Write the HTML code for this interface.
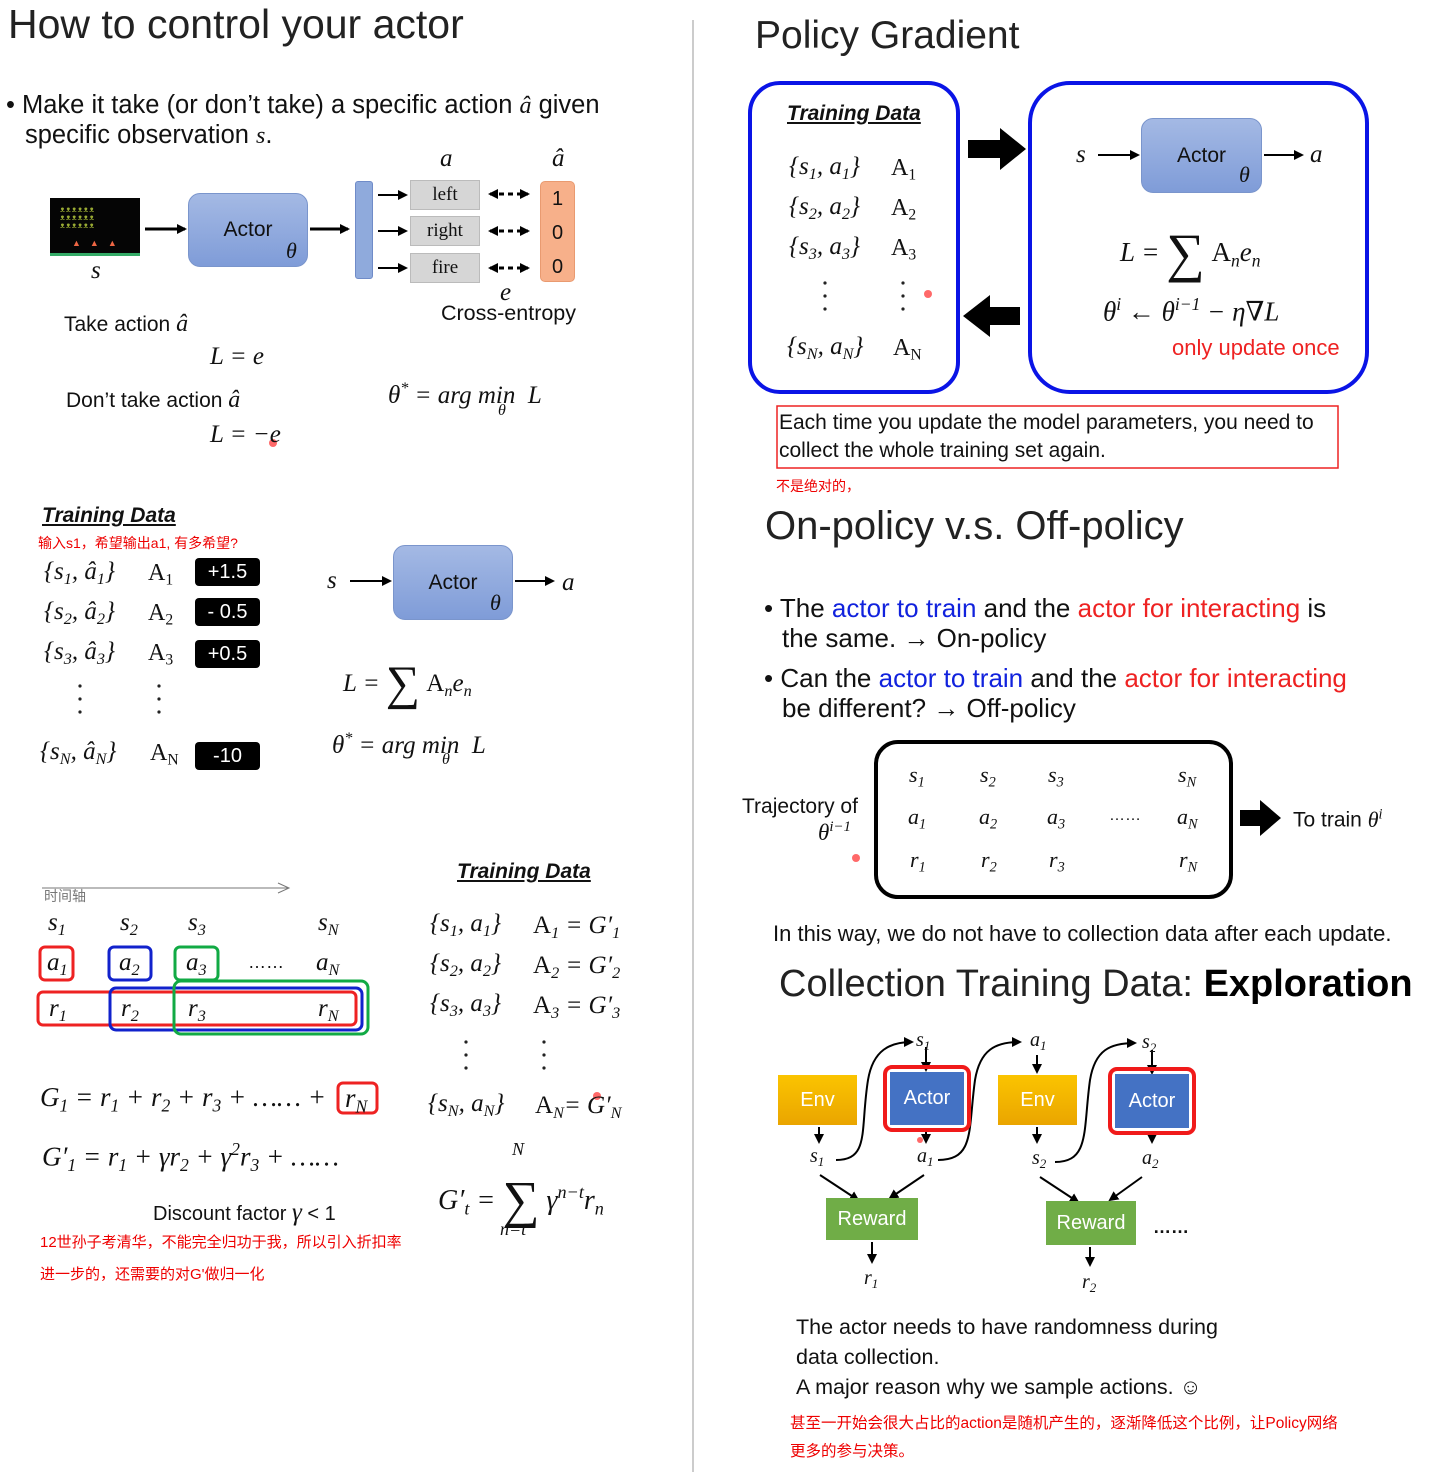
<!DOCTYPE html>
<html><head><meta charset="utf-8">
<style>
body{margin:0;width:1429px;height:1472px;position:relative;background:#fff;overflow:hidden;font-family:"Liberation Sans","Noto Sans CJK SC",sans-serif;color:#111}
.t{position:absolute;white-space:nowrap;line-height:1}
.m{font-family:"Liberation Serif","DejaVu Serif",serif;font-style:italic;font-size:25px}
.r{font-family:"Liberation Serif","DejaVu Serif",serif;font-size:24px}
.cn{color:#e00;font-size:14px;font-family:"Liberation Sans","Noto Sans CJK SC",sans-serif}
.h{font-size:39px;color:#222}
.b{position:absolute;box-sizing:border-box}
.actor{background:linear-gradient(#a4b9e4,#7f9cd8);border:1px solid #7a95cc;border-radius:12px;font-size:21px;display:flex;align-items:center;justify-content:center}
.blk{background:#000;color:#fff;font-size:20px;border-radius:4px;display:flex;align-items:center;justify-content:center}
.td{font-weight:bold;font-style:italic;text-decoration:underline;font-size:21px}
.bl{font-size:25.5px}
sub{font-size:65%;vertical-align:-0.3em}
sup{font-size:65%;vertical-align:0.6em}
</style></head><body>
<svg width="1429" height="1472" style="position:absolute;left:0;top:0">
<defs>
<marker id="ar" markerWidth="10" markerHeight="10" refX="8" refY="5" orient="auto" markerUnits="userSpaceOnUse"><path d="M0,0 L10,5 L0,10z" fill="#000"/></marker>
<marker id="al" markerWidth="10" markerHeight="10" refX="2" refY="5" orient="auto" markerUnits="userSpaceOnUse"><path d="M10,0 L0,5 L10,10z" fill="#000"/></marker>
</defs>
<line x1="693" y1="20" x2="693" y2="1472" stroke="#999" stroke-width="1"/>
<g stroke="#000" stroke-width="3" marker-end="url(#ar)">
<line x1="145" y1="229" x2="185" y2="229"/>
<line x1="310" y1="229" x2="348" y2="229"/>
</g>
<g stroke="#000" stroke-width="2" marker-end="url(#ar)">
<line x1="378" y1="195" x2="406" y2="195"/>
<line x1="378" y1="231" x2="406" y2="231"/>
<line x1="378" y1="268" x2="406" y2="268"/>
<line x1="350" y1="581" x2="390" y2="581"/>
<line x1="515" y1="581" x2="553" y2="581"/>
<line x1="1098" y1="155" x2="1138" y2="155"/>
<line x1="1264" y1="155" x2="1302" y2="155"/>
</g>
<g stroke="#000" stroke-width="3" stroke-dasharray="5,4" marker-start="url(#al)" marker-end="url(#ar)">
<line x1="490" y1="194" x2="528" y2="194"/>
<line x1="490" y1="231" x2="528" y2="231"/>
<line x1="490" y1="268" x2="528" y2="268"/>
</g>
<g fill="#222">
<circle cx="80" cy="686" r="1.6"/><circle cx="80" cy="699" r="1.6"/><circle cx="80" cy="712" r="1.6"/>
<circle cx="159" cy="686" r="1.6"/><circle cx="159" cy="699" r="1.6"/><circle cx="159" cy="712" r="1.6"/>
<circle cx="466" cy="1042" r="1.6"/><circle cx="466" cy="1055" r="1.6"/><circle cx="466" cy="1068" r="1.6"/>
<circle cx="544" cy="1042" r="1.6"/><circle cx="544" cy="1055" r="1.6"/><circle cx="544" cy="1068" r="1.6"/>
<circle cx="825" cy="283" r="1.6"/><circle cx="825" cy="296" r="1.6"/><circle cx="825" cy="309" r="1.6"/>
<circle cx="903" cy="283" r="1.6"/><circle cx="903" cy="296" r="1.6"/><circle cx="903" cy="309" r="1.6"/>
</g>
<line x1="42" y1="888" x2="288" y2="888" stroke="#777" stroke-width="1"/>
<path d="M278,883 L289,888 L278,893" fill="none" stroke="#777"/>
<g fill="none" stroke-width="3">
<rect x="40" y="947" width="33" height="33" rx="5" stroke="#e22"/>
<rect x="109" y="947" width="42" height="33" rx="5" stroke="#12c"/>
<rect x="175" y="947" width="43" height="33" rx="5" stroke="#1a4"/>
<rect x="38" y="992" width="318" height="33" rx="5" stroke="#e22"/>
<rect x="110" y="988" width="252" height="42" rx="6" stroke="#12c"/>
<rect x="174" y="981" width="194" height="53" rx="7" stroke="#1a4"/>
<rect x="338" y="1083" width="39" height="30" rx="5" stroke="#e22"/>
</g>
<rect x="750" y="83" width="208" height="309" rx="30" fill="none" stroke="#0a14e6" stroke-width="4"/>
<rect x="1030" y="83" width="337" height="309" rx="40" fill="none" stroke="#0a14e6" stroke-width="4"/>
<path d="M968,140 L1000,140 L1000,128 L1026,149 L1000,170 L1000,158 L968,158z" fill="#000"/>
<path d="M1020,307 L990,307 L990,295 L963,316 L990,337 L990,325 L1020,325z" fill="#000"/>
<rect x="777" y="406" width="561" height="62" fill="none" stroke="#e22" stroke-width="1.5"/>
<rect x="876" y="742" width="355" height="155" rx="22" fill="none" stroke="#000" stroke-width="4"/>
<path d="M1240,810 L1260,810 L1260,800 L1281,818 L1260,836 L1260,826 L1240,826z" fill="#000"/>
<circle cx="273" cy="443" r="4" fill="#f44" opacity=".8"/>
<circle cx="928" cy="294" r="4" fill="#f44" opacity=".8"/>
<circle cx="856" cy="858" r="4" fill="#f44" opacity=".8"/>
<circle cx="597" cy="1096" r="4" fill="#f44" opacity=".8"/>
<circle cx="920" cy="1140" r="3" fill="#f44" opacity=".8"/>
<g stroke="#000" stroke-width="2" fill="none" marker-end="url(#ar)">
<line x1="819" y1="1127" x2="819" y2="1142"/>
<path d="M836,1160 C870,1160 860,1130 868,1080 C873,1050 890,1042 912,1042"/>
<line x1="926" y1="1047" x2="926" y2="1070"/>
<line x1="926" y1="1128" x2="926" y2="1142"/>
<path d="M938,1160 C975,1160 968,1130 975,1080 C980,1050 995,1042 1020,1042"/>
<line x1="1037" y1="1055" x2="1037" y2="1072"/>
<line x1="1037" y1="1127" x2="1037" y2="1142"/>
<path d="M1055,1162 C1090,1162 1083,1130 1090,1080 C1095,1050 1110,1043 1135,1043"/>
<line x1="1152" y1="1050" x2="1152" y2="1073"/>
<line x1="1152" y1="1132" x2="1152" y2="1142"/>
<line x1="820" y1="1175" x2="858" y2="1200"/>
<line x1="924" y1="1175" x2="890" y2="1198"/>
<line x1="1040" y1="1177" x2="1078" y2="1202"/>
<line x1="1142" y1="1177" x2="1110" y2="1200"/>
<line x1="872" y1="1242" x2="872" y2="1262"/>
<line x1="1090" y1="1247" x2="1090" y2="1265"/>
</g>
</svg>

<!-- LEFT -->
<div class="t h" style="left:8px;top:4px;font-size:41px">How to control your actor</div>
<div class="t bl" style="left:6px;top:93px">• Make it take (or don’t take) a specific action <i class="r">â</i> given</div>
<div class="t bl" style="left:25px;top:123px">specific observation <i class="r">s</i>.</div>
<div class="t m" style="left:440px;top:146px">a</div>
<div class="t m" style="left:552px;top:146px">â</div>
<div class="b" style="left:50px;top:198px;width:90px;height:58px;background:#050505;border-bottom:3px solid #3a6"></div>
<div class="t" style="left:60px;top:206px;font-size:8px;color:#9a3;letter-spacing:1px">ᴥᴥᴥᴥᴥᴥ<br>ᴥᴥᴥᴥᴥᴥ<br>ᴥᴥᴥᴥᴥᴥ</div>
<div class="t" style="left:72px;top:239px;font-size:9px;color:#e64;letter-spacing:9px">▲▲▲</div>
<div class="t m" style="left:91px;top:258px">s</div>
<div class="b actor" style="left:188px;top:193px;width:120px;height:74px">Actor</div>
<div class="t m" style="left:286px;top:240px;font-size:22px">θ</div>
<div class="b" style="left:355px;top:181px;width:18px;height:98px;background:#8faadc;border:1px solid #6f8bc8;border-radius:3px"></div>
<div class="b r" style="left:410px;top:180px;width:70px;height:30px;background:#d6d6d6;border:1px solid #bbb;font-size:19px;text-align:center;line-height:28px">left</div>
<div class="b r" style="left:410px;top:216px;width:70px;height:30px;background:#d6d6d6;border:1px solid #bbb;font-size:19px;text-align:center;line-height:28px">right</div>
<div class="b r" style="left:410px;top:253px;width:70px;height:30px;background:#d6d6d6;border:1px solid #bbb;font-size:19px;text-align:center;line-height:28px">fire</div>
<div class="b" style="left:540px;top:181px;width:35px;height:101px;background:#f7b08a;border:1px solid #e99a70;border-radius:5px;font-size:20px;text-align:center;line-height:34px">1<br>0<br>0</div>
<div class="t m" style="left:500px;top:280px">e</div>
<div class="t" style="left:441px;top:303px;font-size:21.5px">Cross-entropy</div>
<div class="t" style="left:64px;top:312px;font-size:21px">Take action <i class="r">â</i></div>
<div class="t m" style="left:210px;top:344px">L = e</div>
<div class="t" style="left:66px;top:388px;font-size:21px">Don’t take action <i class="r">â</i></div>
<div class="t m" style="left:210px;top:422px">L = −e</div>
<div class="t m" style="left:388px;top:380px">θ<sup>*</sup> = arg min &nbsp;<i>L</i></div>
<div class="t m" style="left:498px;top:403px;font-size:16px">θ</div>

<div class="t td" style="left:42px;top:505px">Training Data</div>
<div class="t cn" style="left:38px;top:536px">输入s1，希望输出a1, 有多希望?</div>
<div class="t m" style="left:44px;top:559px">{s<sub>1</sub>, â<sub>1</sub>}</div>
<div class="t m" style="left:44px;top:599px">{s<sub>2</sub>, â<sub>2</sub>}</div>
<div class="t m" style="left:44px;top:639px">{s<sub>3</sub>, â<sub>3</sub>}</div>
<div class="t m" style="left:40px;top:739px">{s<sub>N</sub>, â<sub>N</sub>}</div>
<div class="t r" style="left:148px;top:561px">A<sub>1</sub></div>
<div class="t r" style="left:148px;top:601px">A<sub>2</sub></div>
<div class="t r" style="left:148px;top:641px">A<sub>3</sub></div>
<div class="t r" style="left:150px;top:741px">A<sub>N</sub></div>
<div class="b blk" style="left:195px;top:558px;width:65px;height:28px">+1.5</div>
<div class="b blk" style="left:195px;top:598px;width:65px;height:28px">- 0.5</div>
<div class="b blk" style="left:195px;top:640px;width:65px;height:28px">+0.5</div>
<div class="b blk" style="left:195px;top:742px;width:65px;height:28px">-10</div>
<div class="t m" style="left:327px;top:568px">s</div>
<div class="b actor" style="left:393px;top:545px;width:120px;height:75px">Actor</div>
<div class="t m" style="left:490px;top:592px;font-size:22px">θ</div>
<div class="t m" style="left:562px;top:570px">a</div>
<div class="t m" style="left:343px;top:660px">L = <span style="font-style:normal;font-size:48px;vertical-align:-8px">∑</span> <span style="font-style:normal">A</span><sub>n</sub>e<sub>n</sub></div>
<div class="t m" style="left:332px;top:730px">θ<sup>*</sup> = arg min &nbsp;<i>L</i></div>
<div class="t m" style="left:442px;top:752px;font-size:16px">θ</div>

<div class="t" style="left:44px;top:889px;font-size:14px;color:#777;font-family:'Noto Sans CJK SC',sans-serif">时间轴</div>
<div class="t m" style="left:48px;top:910px">s<sub>1</sub></div>
<div class="t m" style="left:120px;top:910px">s<sub>2</sub></div>
<div class="t m" style="left:188px;top:910px">s<sub>3</sub></div>
<div class="t m" style="left:318px;top:910px">s<sub>N</sub></div>
<div class="t m" style="left:47px;top:950px">a<sub>1</sub></div>
<div class="t m" style="left:119px;top:950px">a<sub>2</sub></div>
<div class="t m" style="left:186px;top:950px">a<sub>3</sub></div>
<div class="t" style="left:248px;top:953px;font-size:18px">……</div>
<div class="t m" style="left:316px;top:950px">a<sub>N</sub></div>
<div class="t m" style="left:49px;top:996px">r<sub>1</sub></div>
<div class="t m" style="left:121px;top:996px">r<sub>2</sub></div>
<div class="t m" style="left:188px;top:996px">r<sub>3</sub></div>
<div class="t m" style="left:318px;top:996px">r<sub>N</sub></div>
<div class="t m" style="left:40px;top:1084px;font-size:27px">G<sub>1</sub> = r<sub>1</sub> + r<sub>2</sub> + r<sub>3</sub> + …… +</div>
<div class="t m" style="left:345px;top:1085px;font-size:27px">r<sub>N</sub></div>
<div class="t m" style="left:42px;top:1141px;font-size:27px">G′<sub>1</sub> = r<sub>1</sub> + γr<sub>2</sub> + γ<sup>2</sup>r<sub>3</sub> + ……</div>
<div class="t" style="left:153px;top:1200px;font-size:20px">Discount factor <i class="m">γ</i> &lt; 1</div>
<div class="t cn" style="left:40px;top:1235px;font-size:15px">12世孙子考清华，不能完全归功于我，所以引入折扣率</div>
<div class="t cn" style="left:40px;top:1267px;font-size:15px">进一步的，还需要的对G'做归一化</div>

<div class="t td" style="left:457px;top:861px">Training Data</div>
<div class="t m" style="left:430px;top:911px">{s<sub>1</sub>, a<sub>1</sub>}</div>
<div class="t m" style="left:430px;top:951px">{s<sub>2</sub>, a<sub>2</sub>}</div>
<div class="t m" style="left:430px;top:991px">{s<sub>3</sub>, a<sub>3</sub>}</div>
<div class="t m" style="left:428px;top:1091px">{s<sub>N</sub>, a<sub>N</sub>}</div>
<div class="t m" style="left:533px;top:913px"><span style="font-style:normal">A</span><sub>1</sub> = G′<sub>1</sub></div>
<div class="t m" style="left:533px;top:953px"><span style="font-style:normal">A</span><sub>2</sub> = G′<sub>2</sub></div>
<div class="t m" style="left:533px;top:993px"><span style="font-style:normal">A</span><sub>3</sub> = G′<sub>3</sub></div>
<div class="t m" style="left:535px;top:1093px"><span style="font-style:normal">A</span><sub>N</sub>= G′<sub>N</sub></div>
<div class="t m" style="left:512px;top:1140px;font-size:18px">N</div>
<div class="t m" style="left:438px;top:1175px;font-size:28px">G′<sub>t</sub> = <span style="font-style:normal;font-size:52px;vertical-align:-8px">∑</span> γ<sup>n−t</sup>r<sub>n</sub></div>
<div class="t m" style="left:500px;top:1220px;font-size:18px">n=t</div>

<!-- RIGHT -->
<div class="t h" style="left:755px;top:16px">Policy Gradient</div>
<div class="t td" style="left:787px;top:103px">Training Data</div>
<div class="t m" style="left:789px;top:154px">{s<sub>1</sub>, a<sub>1</sub>}</div>
<div class="t m" style="left:789px;top:194px">{s<sub>2</sub>, a<sub>2</sub>}</div>
<div class="t m" style="left:789px;top:234px">{s<sub>3</sub>, a<sub>3</sub>}</div>
<div class="t m" style="left:787px;top:334px">{s<sub>N</sub>, a<sub>N</sub>}</div>
<div class="t r" style="left:891px;top:156px">A<sub>1</sub></div>
<div class="t r" style="left:891px;top:196px">A<sub>2</sub></div>
<div class="t r" style="left:891px;top:236px">A<sub>3</sub></div>
<div class="t r" style="left:893px;top:336px">A<sub>N</sub></div>
<div class="t m" style="left:1076px;top:142px">s</div>
<div class="b actor" style="left:1141px;top:118px;width:121px;height:75px">Actor</div>
<div class="t m" style="left:1239px;top:164px;font-size:22px">θ</div>
<div class="t m" style="left:1310px;top:142px">a</div>
<div class="t m" style="left:1120px;top:226px;font-size:27px">L = <span style="font-style:normal;font-size:54px;vertical-align:-10px">∑</span> <span style="font-style:normal">A</span><sub>n</sub>e<sub>n</sub></div>
<div class="t m" style="left:1103px;top:296px;font-size:27px">θ<sup>i</sup> ← θ<sup>i−1</sup> − η∇L</div>
<div class="t" style="left:1172px;top:337px;font-size:22px;color:#e22">only update once</div>
<div class="t" style="left:779px;top:409px;font-size:21px;line-height:28px">Each time you update the model parameters, you need to<br>collect the whole training set again.</div>
<div class="t cn" style="left:776px;top:479px">不是绝对的，</div>
<div class="t h" style="left:765px;top:506px;font-size:40px">On-policy v.s. Off-policy</div>
<div class="t bl" style="left:764px;top:595px;font-size:26px">• The <span style="color:#12d">actor to train</span> and the <span style="color:#e22">actor for interacting</span> is</div>
<div class="t bl" style="left:782px;top:625px;font-size:26px">the same. → On-policy</div>
<div class="t bl" style="left:764px;top:665px;font-size:26px">• Can the <span style="color:#12d">actor to train</span> and the <span style="color:#e22">actor for interacting</span></div>
<div class="t bl" style="left:782px;top:695px;font-size:26px">be different? → Off-policy</div>
<div class="t" style="left:742px;top:796px;font-size:21px">Trajectory of</div>
<div class="t m" style="left:818px;top:820px;font-size:23px">θ<sup>i−1</sup></div>
<div class="t m" style="left:909px;top:764px;font-size:22px">s<sub>1</sub></div>
<div class="t m" style="left:980px;top:764px;font-size:22px">s<sub>2</sub></div>
<div class="t m" style="left:1048px;top:764px;font-size:22px">s<sub>3</sub></div>
<div class="t m" style="left:1178px;top:764px;font-size:22px">s<sub>N</sub></div>
<div class="t m" style="left:908px;top:806px;font-size:22px">a<sub>1</sub></div>
<div class="t m" style="left:979px;top:806px;font-size:22px">a<sub>2</sub></div>
<div class="t m" style="left:1047px;top:806px;font-size:22px">a<sub>3</sub></div>
<div class="t" style="left:1109px;top:808px;font-size:16px">……</div>
<div class="t m" style="left:1177px;top:806px;font-size:22px">a<sub>N</sub></div>
<div class="t m" style="left:910px;top:849px;font-size:22px">r<sub>1</sub></div>
<div class="t m" style="left:981px;top:849px;font-size:22px">r<sub>2</sub></div>
<div class="t m" style="left:1049px;top:849px;font-size:22px">r<sub>3</sub></div>
<div class="t m" style="left:1179px;top:849px;font-size:22px">r<sub>N</sub></div>
<div class="t" style="left:1293px;top:807px;font-size:21px">To train <i class="m" style="font-size:22px">θ<sup>i</sup></i></div>
<div class="t" style="left:773px;top:923px;font-size:22px">In this way, we do not have to collection data after each update.</div>
<div class="t h" style="left:779px;top:965px;font-size:38px">Collection Training Data: <b style="color:#000">Exploration</b></div>

<div class="b" style="left:778px;top:1075px;width:79px;height:50px;background:linear-gradient(#fbc400,#eaa500);color:#fff;font-size:20px;text-align:center;line-height:50px">Env</div>
<div class="b" style="left:998px;top:1075px;width:79px;height:50px;background:linear-gradient(#fbc400,#eaa500);color:#fff;font-size:20px;text-align:center;line-height:50px">Env</div>
<div class="b" style="left:883px;top:1065px;width:88px;height:67px;border:4px solid #f01a1a;border-radius:9px;padding:3px"><div style="background:#4472c4;color:#fff;font-size:20px;text-align:center;line-height:53px;height:100%">Actor</div></div>
<div class="b" style="left:1108px;top:1067px;width:88px;height:68px;border:4px solid #f01a1a;border-radius:9px;padding:3px"><div style="background:#4472c4;color:#fff;font-size:20px;text-align:center;line-height:54px;height:100%">Actor</div></div>
<div class="b" style="left:826px;top:1198px;width:92px;height:42px;background:#70ad47;color:#fff;font-size:20px;text-align:center;line-height:42px">Reward</div>
<div class="b" style="left:1046px;top:1201px;width:90px;height:44px;background:#70ad47;color:#fff;font-size:20px;text-align:center;line-height:44px">Reward</div>
<div class="t" style="left:1153px;top:1218px;font-size:18px;font-weight:bold">……</div>
<div class="t m" style="left:916px;top:1030px;font-size:20px">s<sub>1</sub></div>
<div class="t m" style="left:1030px;top:1030px;font-size:20px">a<sub>1</sub></div>
<div class="t m" style="left:1142px;top:1032px;font-size:20px">s<sub>2</sub></div>
<div class="t m" style="left:810px;top:1146px;font-size:20px">s<sub>1</sub></div>
<div class="t m" style="left:917px;top:1146px;font-size:20px">a<sub>1</sub></div>
<div class="t m" style="left:1032px;top:1148px;font-size:20px">s<sub>2</sub></div>
<div class="t m" style="left:1142px;top:1148px;font-size:20px">a<sub>2</sub></div>
<div class="t m" style="left:864px;top:1268px;font-size:20px">r<sub>1</sub></div>
<div class="t m" style="left:1082px;top:1272px;font-size:20px">r<sub>2</sub></div>

<div class="t" style="left:796px;top:1312px;font-size:21.5px;line-height:30px">The actor needs to have randomness during<br>data collection.</div>
<div class="t" style="left:796px;top:1377px;font-size:21.5px">A major reason why we sample actions. ☺</div>
<div class="t cn" style="left:790px;top:1416px;font-size:15.5px">甚至一开始会很大占比的action是随机产生的，逐渐降低这个比例，让Policy网络</div>
<div class="t cn" style="left:790px;top:1444px;font-size:15.5px">更多的参与决策。</div>
</body></html>
